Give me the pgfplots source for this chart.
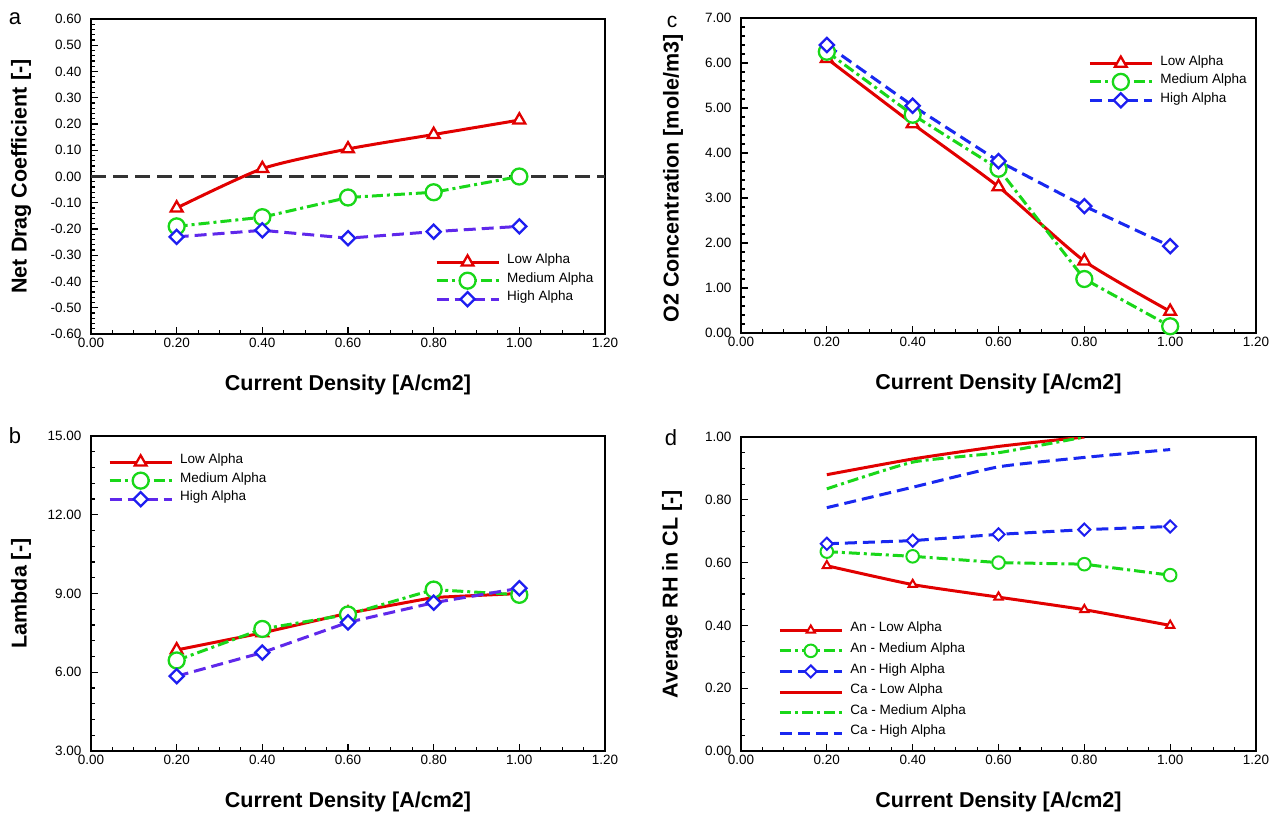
\documentclass[border=0pt]{standalone}
\usepackage{pgfplots}
\pgfplotsset{compat=1.18}
\usepackage{fontspec}
\setmainfont{Liberation Sans}

\definecolor{cred}{RGB}{225,0,0}
\definecolor{cgreen}{RGB}{25,215,25}
\definecolor{cblue}{RGB}{25,40,240}
\definecolor{cpurple}{RGB}{95,40,235}
\definecolor{cmark}{RGB}{30,30,240}

\pgfplotsset{
  panel/.style={
    scale only axis, width=514pt, height=315pt,
    xmin=0, xmax=1.2, xtick={0,0.2,0.4,0.6,0.8,1.0,1.2}, minor x tick num=3,
    tick align=inside, tick pos=left,
    major tick length=7pt, minor tick length=4pt,
    tick style={black, line width=1.1pt},
    axis line style={line width=1.8pt},
    tick label style={font=\fontsize{13.5}{14}\selectfont},
    xticklabel style={yshift=-1pt},
    yticklabel style={xshift=-6pt},
    /pgf/number format/.cd, fixed, fixed zerofill, precision=2, assume math mode=true,
    /pgfplots/.cd,
    label style={font=\fontsize{21.5}{22}\selectfont\bfseries},
    xlabel={Current Density [A/cm2]},
    xlabel style={at={(axis description cs:0.5,-0.162)}, anchor=center},
    legend style={draw=none, fill=none, font=\fontsize{13.5}{14}\selectfont, inner sep=0pt,
      row sep=0pt, cells={anchor=west}, nodes={inner xsep=7pt, inner ysep=0pt, text height=11pt, text depth=7.5pt}},
    legend image code/.code={\draw[mark repeat=2,mark phase=2,##1] plot coordinates {(0pt,0pt) (31pt,0pt) (62pt,0pt)};},
  },
  redS/.style={cred, line width=3pt, mark=triangle*, mark size=6.8pt, mark options={solid, fill=white, line width=2.3pt}},
  greenS/.style={cgreen, line width=3pt, dash pattern=on 11pt off 4pt on 3pt off 4pt, mark=*, mark size=8pt, mark options={solid, fill=white, line width=2.3pt}},
  blueS/.style={cpurple, line width=3pt, dash pattern=on 12pt off 6pt, mark=square*, mark size=5pt, mark options={solid, rotate=45, draw=cmark, fill=white, line width=2.3pt}},
  blueC/.style={cblue, line width=3pt, dash pattern=on 12pt off 6pt, mark=square*, mark size=5pt, mark options={solid, rotate=45, draw=cmark, fill=white, line width=2.3pt}},
}

\begin{document}
\begin{tikzpicture}
\useasboundingbox (0pt,0pt) rectangle (1269pt,-812pt);

% ---------------- panel a
\begin{axis}[panel, at={(91pt,-334pt)}, anchor=south west,
  ymin=-0.6, ymax=0.6, ytick={-0.6,-0.5,-0.4,-0.3,-0.2,-0.1,0,0.1,0.2,0.3,0.4,0.5,0.6}, minor y tick num=4,
  ylabel={Net Drag Coefficient [-]},
  ylabel style={at={(axis description cs:-0.136,0.5)}, anchor=center},
  legend style={at={(axis description cs:0.669,0.258)}, anchor=north west}]
\addplot[forget plot, black!80, line width=2.2pt, dash pattern=on 15pt off 7pt] coordinates {(0,0) (1.2,0)};
\addplot[redS, smooth, tension=0.4] coordinates {(0.2,-0.12) (0.4,0.03) (0.6,0.105) (0.8,0.16) (1.0,0.215)};
\addlegendentry{Low Alpha}
\addplot[greenS] coordinates {(0.2,-0.19) (0.4,-0.155) (0.6,-0.08) (0.8,-0.06) (1.0,0.0)};
\addlegendentry{Medium Alpha}
\addplot[blueS] coordinates {(0.2,-0.23) (0.4,-0.205) (0.6,-0.235) (0.8,-0.21) (1.0,-0.19)};
\addlegendentry{High Alpha}
\end{axis}

% ---------------- panel b
\begin{axis}[panel, at={(91pt,-751pt)}, anchor=south west,
  ymin=3, ymax=15, ytick={3,6,9,12,15}, minor y tick num=4,
  ylabel={Lambda [-]},
  ylabel style={at={(axis description cs:-0.136,0.5)}, anchor=center},
  legend style={at={(axis description cs:0.033,0.947)}, anchor=north west}]
\addplot[redS] coordinates {(0.2,6.85) (0.4,7.5) (0.6,8.25) (0.8,8.85) (1.0,9.0)};
\addlegendentry{Low Alpha}
\addplot[greenS] coordinates {(0.2,6.45) (0.4,7.65) (0.6,8.2) (0.8,9.15) (1.0,8.95)};
\addlegendentry{Medium Alpha}
\addplot[blueS] coordinates {(0.2,5.85) (0.4,6.75) (0.6,7.9) (0.8,8.65) (1.0,9.2)};
\addlegendentry{High Alpha}
\end{axis}

% ---------------- panel c
\begin{axis}[panel, width=515pt, at={(741pt,-333pt)}, anchor=south west,
  ymin=0, ymax=7, ytick={0,1,2,3,4,5,6,7}, minor y tick num=4,
  ylabel={O2 Concentration [mole/m3]},
  ylabel style={at={(axis description cs:-0.132,0.49)}, anchor=center},
  legend style={at={(axis description cs:0.674,0.886)}, anchor=north west}]
\addplot[redS, smooth, tension=0.35] coordinates {(0.2,6.1) (0.4,4.65) (0.6,3.25) (0.8,1.6) (1.0,0.48)};
\addlegendentry{Low Alpha}
\addplot[greenS] coordinates {(0.2,6.25) (0.4,4.85) (0.6,3.65) (0.8,1.2) (1.0,0.15)};
\addlegendentry{Medium Alpha}
\addplot[blueC] coordinates {(0.2,6.4) (0.4,5.05) (0.6,3.82) (0.8,2.82) (1.0,1.93)};
\addlegendentry{High Alpha}
\end{axis}

% ---------------- panel d
\begin{axis}[panel, width=515pt, height=314pt, at={(741pt,-751pt)}, anchor=south west,
  ymin=0, ymax=1, ytick={0,0.2,0.4,0.6,0.8,1.0}, minor y tick num=3,
  ylabel={Average RH in CL [-]},
  ylabel style={at={(axis description cs:-0.134,0.5)}, anchor=center},
  legend style={at={(axis description cs:0.072,0.418)}, anchor=north west,
    nodes={text height=12pt, text depth=8.6pt}}]
\addplot[redS, smooth, tension=0.3, mark size=4.8pt, mark options={solid, fill=white, line width=2pt}] coordinates {(0.2,0.59) (0.4,0.53) (0.6,0.49) (0.8,0.45) (1.0,0.40)};
\addlegendentry{An - Low Alpha}
\addplot[greenS, mark size=6.3pt, mark options={solid, fill=white, line width=2pt}] coordinates {(0.2,0.635) (0.4,0.62) (0.6,0.60) (0.8,0.595) (1.0,0.56)};
\addlegendentry{An - Medium Alpha}
\addplot[blueC, mark size=4.3pt, mark options={solid, rotate=45, draw=cmark, fill=white, line width=2pt}] coordinates {(0.2,0.66) (0.4,0.67) (0.6,0.69) (0.8,0.705) (1.0,0.715)};
\addlegendentry{An - High Alpha}
\addplot[cred, line width=3pt, smooth, tension=0.3] coordinates {(0.2,0.88) (0.4,0.93) (0.6,0.97) (0.8,1.0)};
\addlegendentry{Ca - Low Alpha}
\addplot[cgreen, line width=3pt, dash pattern=on 11pt off 4pt on 3pt off 4pt, smooth, tension=0.3] coordinates {(0.2,0.835) (0.4,0.92) (0.6,0.95) (0.8,1.0)};
\addlegendentry{Ca - Medium Alpha}
\addplot[cblue, line width=3pt, dash pattern=on 12pt off 6pt, smooth, tension=0.3] coordinates {(0.2,0.775) (0.4,0.84) (0.6,0.905) (0.8,0.935) (1.0,0.96)};
\addlegendentry{Ca - High Alpha}
\end{axis}

% panel letters
\node[font=\fontsize{22}{22}\selectfont] at (15pt,-19pt) {a};
\node[font=\fontsize{22}{22}\selectfont] at (15pt,-436pt) {b};
\node[font=\fontsize{21}{21}\selectfont] at (672pt,-22pt) {c};
\node[font=\fontsize{22}{22}\selectfont] at (671pt,-438pt) {d};
\end{tikzpicture}
\end{document}
